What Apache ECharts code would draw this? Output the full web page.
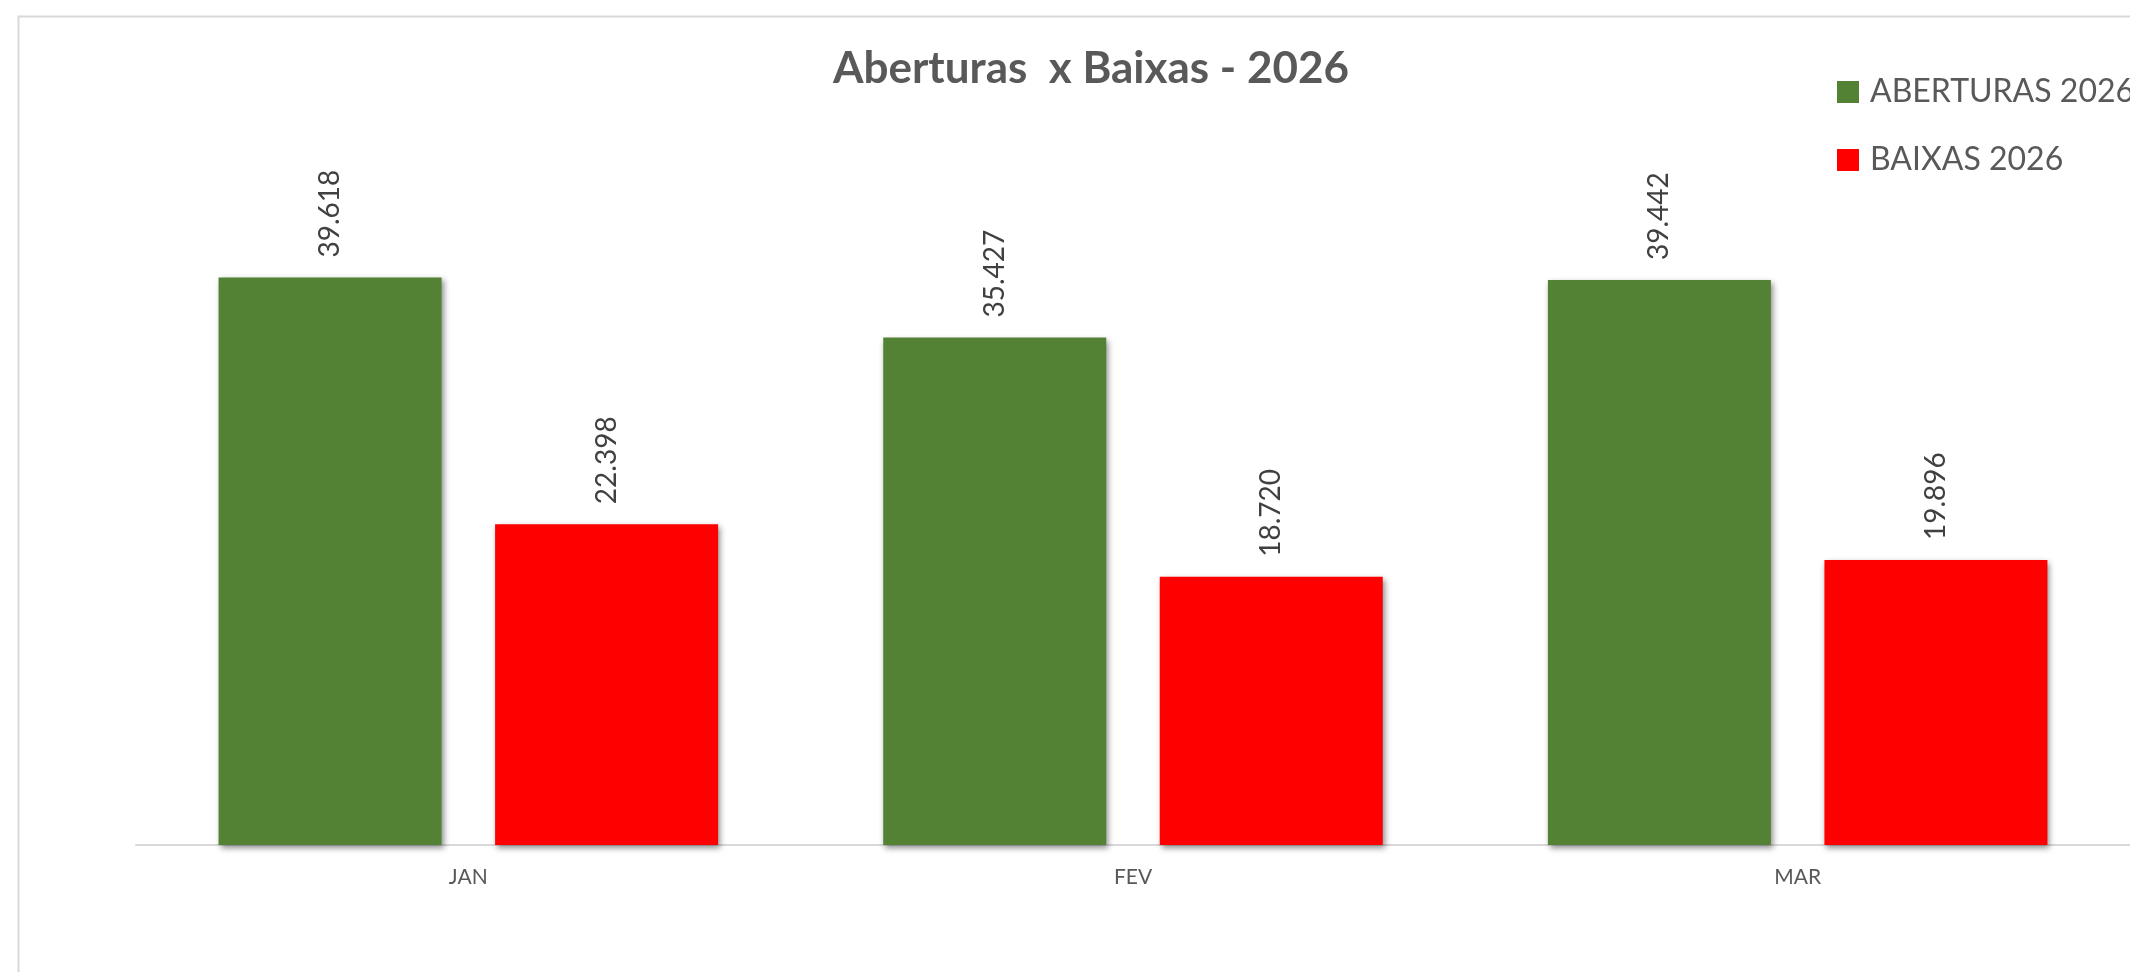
<!DOCTYPE html>
<html>
<head>
<meta charset="utf-8">
<script src="https://cdn.jsdelivr.net/npm/echarts@6/dist/echarts.min.js"></script>
<style>
  html, body { margin: 0; padding: 0; background: #fff; }
  #chart { width: 2130px; height: 972px; }
</style>
</head>
<body>
<div id="chart"></div>
<script>
const months = ['JAN', 'FEV', 'MAR'];
const aberturas = [39618, 35427, 39442];
const baixas = [22398, 18720, 19896];
const seriesNames = ['ABERTURAS 2026', 'BAIXAS 2026'];

const font = 'Lato, "Open Sans", sans-serif';

// numbers shown as 39.618 (pt-BR)
const fmt = v => v.toLocaleString('pt-BR');

const barLabel = {
  show: true,
  position: 'top',
  rotate: 90,
  align: 'left',
  verticalAlign: 'middle',
  distance: 20,
  fontFamily: font,
  fontSize: 28,
  color: '#404040',
  formatter: p => fmt(p.value)
};

const shadow = {
  shadowBlur: 6,
  shadowOffsetX: 2,
  shadowOffsetY: 3,
  shadowColor: 'rgba(0,0,0,0.45)'
};

let myChart = echarts.init(document.getElementById('chart'));

let option = {
  animation: false,
  backgroundColor: '#ffffff',
  graphic: [
    {
      type: 'rect',
      left: 16,
      top: 14,
      shape: { width: 2300, height: 1100 },
      style: { fill: 'none', stroke: '#d9d9d9', lineWidth: 2 },
      silent: true
    }
  ],
  title: {
    text: 'Aberturas  x Baixas - 2026',
    left: 1086,
    textAlign: 'center',
    top: 42,
    textStyle: {
      fontFamily: font,
      fontSize: 44,
      fontWeight: 'bold',
      color: '#595959'
    }
  },
  legend: {
    orient: 'vertical',
    left: 1837,
    top: 76,
    padding: 0,
    icon: 'rect',
    itemWidth: 22,
    itemHeight: 22,
    itemGap: 36,
    data: seriesNames,
    textStyle: {
      fontFamily: font,
      fontSize: 32,
      color: '#595959',
      padding: [0, 0, 0, 6]
    }
  },
  grid: {
    left: 136,
    right: 0,
    top: 272,
    bottom: 127
  },
  xAxis: {
    type: 'category',
    data: months,
    axisLine: { lineStyle: { color: '#d9d9d9', width: 2 } },
    axisTick: { show: false },
    axisLabel: {
      fontFamily: font,
      fontSize: 21,
      color: '#595959',
      margin: 22
    }
  },
  yAxis: {
    type: 'value',
    min: 0,
    max: 40000,
    show: false,
    splitLine: { show: false }
  },
  series: [
    {
      name: seriesNames[0],
      type: 'bar',
      data: aberturas,
      barWidth: 223,
      barGap: '24%',
      itemStyle: Object.assign({ color: '#548235' }, shadow),
      label: barLabel
    },
    {
      name: seriesNames[1],
      type: 'bar',
      data: baixas,
      barWidth: 223,
      itemStyle: Object.assign({ color: '#ff0000' }, shadow),
      label: barLabel
    }
  ]
};

myChart.setOption(option);
</script>
</body>
</html>
